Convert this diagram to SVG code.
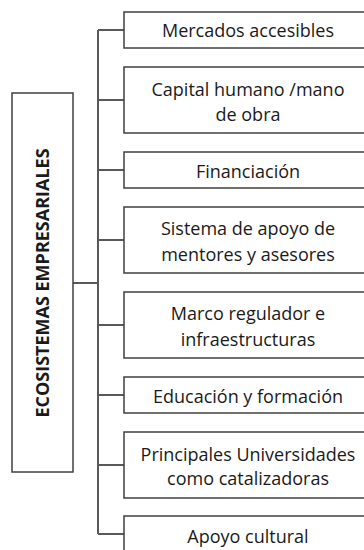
<svg xmlns="http://www.w3.org/2000/svg" width="364" height="550" viewBox="0 0 364 550">
<style>
.box{fill:#ffffff;stroke:#404040;stroke-width:1.5}
.conn{fill:none;stroke:#595959;stroke-width:2}
.t{font-family:"Open Sans","Noto Sans",sans-serif;font-size:18px;fill:#1a1a1a;text-anchor:middle}
.tb{font-family:"Open Sans","Noto Sans",sans-serif;font-size:18px;font-weight:bold;fill:#1a1a1a;text-anchor:middle}
</style>
<rect width="364" height="550" fill="#ffffff"/>
<g id="connectors">
<path class="conn" d="M98,30 V534 M98,30 H124 M98,100 H124 M98,170 H124 M98,240 H124 M98,325 H124 M98,395 H124 M98,465 H124 M98,534 H124 M73,283 H98"/>
</g>
<g id="root">
<rect class="box" x="12" y="93" width="61" height="379"/>
<text class="tb" transform="translate(49,283) rotate(-90)">ECOSISTEMAS EMPRESARIALES</text>
</g>
<g id="n1">
<rect class="box" x="124" y="12" width="248" height="36"/>
<text class="t" x="248" y="37">Mercados accesibles</text>
</g>
<g id="n2">
<rect class="box" x="124" y="67" width="248" height="66"/>
<text class="t" x="248" y="96">Capital humano /mano</text>
<text class="t" x="248" y="121">de obra</text>
</g>
<g id="n3">
<rect class="box" x="124" y="152" width="248" height="36"/>
<text class="t" x="248" y="178">Financiación</text>
</g>
<g id="n4">
<rect class="box" x="124" y="207" width="248" height="66"/>
<text class="t" x="248" y="235">Sistema de apoyo de</text>
<text class="t" x="248" y="261">mentores y asesores</text>
</g>
<g id="n5">
<rect class="box" x="124" y="292" width="248" height="66"/>
<text class="t" x="248" y="320">Marco regulador e</text>
<text class="t" x="248" y="346">infraestructuras</text>
</g>
<g id="n6">
<rect class="box" x="124" y="377" width="248" height="36"/>
<text class="t" x="248" y="403">Educación y formación</text>
</g>
<g id="n7">
<rect class="box" x="124" y="432" width="248" height="66"/>
<text class="t" x="248" y="461">Principales Universidades</text>
<text class="t" x="248" y="485">como catalizadoras</text>
</g>
<g id="n8">
<rect class="box" x="124" y="516" width="248" height="40"/>
<text class="t" x="248" y="543">Apoyo cultural</text>
</g>
</svg>
